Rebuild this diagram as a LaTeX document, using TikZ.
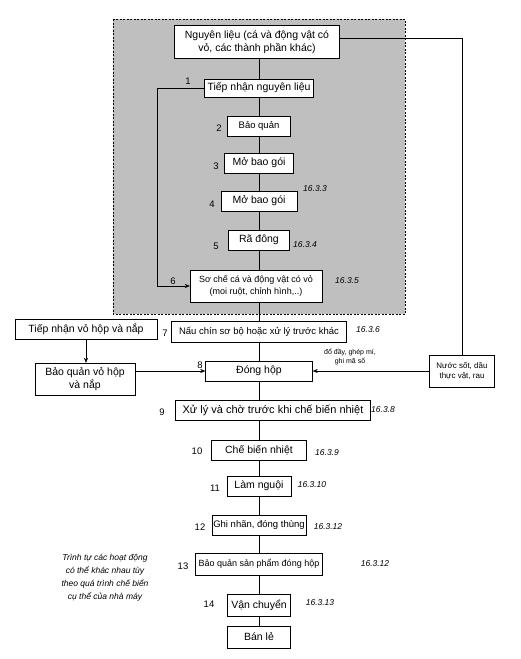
\documentclass[tikz,border=0pt]{standalone}
\usepackage{fontspec}
\setmainfont{Liberation Sans}
\usetikzlibrary{arrows.meta}

\tikzset{
  stepbox/.style={draw, fill=white, align=center, inner xsep=2pt, inner ysep=2pt,
    minimum height=20pt, font=\fontsize{10.5}{12.5}\selectfont},
  num/.style={font=\fontsize{9.5}{11}\selectfont},
  secref/.style={font=\itshape\fontsize{8.5}{10}\selectfont},
  arr/.style={-{Stealth[length=5pt,width=4pt]}}
}

\begin{document}
\begin{tikzpicture}[x=1pt,y=-1pt]
    % Fix the page to the size of the reference
    \useasboundingbox (0,0) rectangle (520,659);

    % Shaded, dashed area round the raw material steps
    \draw[dash pattern=on 2pt off 1.5pt, fill=black!25] (113,19) rectangle (405,314);

    % Raw material steps
    \node[stepbox, minimum width=165pt, minimum height=33pt] (nl) at (257,42) {Nguyên liệu (cá và động vật có\\vỏ, các thành phần khác)};
    \node[stepbox, minimum width=109pt, minimum height=18pt] (tn) at (259,88) {Tiếp nhận nguyên liệu};
    \node[stepbox, minimum width=63pt, font=\fontsize{9.5}{11}\selectfont] (bq) at (259,126) {Bảo quản};
    \node[stepbox, minimum width=69pt] (mba) at (259,163) {Mở bao gói};
    \node[stepbox, minimum width=76pt] (mbb) at (259,201) {Mở bao gói};
    \node[stepbox, minimum width=61pt] (rd) at (259,240) {Rã đông};
    \node[stepbox, minimum width=132pt, minimum height=32pt, font=\fontsize{9}{11.5}\selectfont] (sc) at (256,286) {Sơ chế cá và động vật có vỏ\\(moi ruột, chỉnh hình,..)};

    % Cans, lids and sauce
    \node[stepbox, minimum width=175pt, minimum height=21pt, font=\fontsize{9.5}{11}\selectfont] (nc) at (259,332) {Nấu chín sơ bộ hoặc xử lý trước khác};
    \node[stepbox, minimum width=142pt] (tv) at (86,329) {Tiếp nhận vỏ hộp và nắp};
    \node[stepbox, minimum width=100pt, minimum height=32pt] (bv) at (85,379) {Bảo quản vỏ hộp\\và nắp};
    \node[stepbox, minimum width=107pt] (dh) at (259,371) {Đóng hộp};
    \node[stepbox, minimum width=65pt, minimum height=32pt, font=\fontsize{8}{10}\selectfont] (ns) at (462,371) {Nước sốt, dầu\\thực vật, rau};

    % Processing and distribution steps
    \node[stepbox, minimum width=195pt, font=\fontsize{11}{13}\selectfont] (xl) at (273,410) {Xử lý và chờ trước khi chế biến nhiệt};
    \node[stepbox, minimum width=95pt] (cb) at (259,450) {Chế biến nhiệt};
    \node[stepbox, minimum width=64pt] (ln) at (259,486) {Làm nguội};
    \node[stepbox, inner xsep=1pt, minimum width=94pt, font=\fontsize{9.5}{11}\selectfont] (gn) at (259,525) {Ghi nhãn, đóng thùng};
    \node[stepbox, inner xsep=1pt, minimum width=127pt, minimum height=22pt, font=\fontsize{9}{11}\selectfont] (bs) at (259,564) {Bảo quản sản phẩm đóng hộp};
    \node[stepbox, minimum width=63pt, minimum height=22pt] (vc) at (259,605) {Vận chuyển};
    \node[stepbox, minimum width=63pt, minimum height=22pt] (bl) at (259,637) {Bán lẻ};

    % Main line down the flow
    \foreach \a/\b in {nl/tn, tn/bq, bq/mba, mba/mbb, mbb/rd, rd/sc, sc/nc, nc/dh, dh/xl, cb/ln, ln/gn, gn/bs, bs/vc, vc/bl}
    \draw (\a.south -| tn.south) -- (tn.south |- \b.north);
    \draw (cb.north |- xl.south) -- (cb.north);

    % Loop from the receiving step straight to preparation
    \coordinate (lp) at (157,88);
    \draw[arr] (tn.west) -- (lp) |- (sc.west);

    % Side inputs
    \draw ([yshift=4pt]nl.east) -| (ns.north);
    \draw[arr] (ns.west) -- (dh.east);
    \draw[arr] (tv.south) -- (tv.south |- bv.north);
    \draw[arr] (bv.east |- dh.west) -- (dh.west);
    \node[font=\fontsize{7}{8.5}\selectfont, align=center] (fill) at (350,357) {đổ đầy, ghép mí,\\ghi mã số};

    % Step numbers
    \foreach \n/\x/\y in {1/188/81, 2/219/128, 3/216/166, 4/212/204, 5/216/246, 6/173/281, 7/165/333, 8/200/365,
                          9/162/412, 10/197/451, 11/215/488, 12/200/527, 13/183/566, 14/209/604}
    \node[num] (n\n) at (\x,\y) {\n};

    % Section references
    \foreach \s/\x/\y [count=\i] in {16.3.3/315/189, 16.3.4/305/245, 16.3.5/347/281, 16.3.6/368/330, 16.3.8/383/410,
                          16.3.9/327/453, 16.3.10/312/485, 16.3.12/328/527, 16.3.12/375/564, 16.3.13/320/603}
    \node[secref] (r\i) at (\x,\y) {\s};

    % Note on the order of the steps
    \node[font=\itshape\fontsize{8.5}{13}\selectfont, align=center] (note) at (105,578)
      {Trình tự các hoạt động\\có thể khác nhau tùy\\theo quá trình chế biến\\cụ thể của nhà máy};
\end{tikzpicture}
\end{document}
